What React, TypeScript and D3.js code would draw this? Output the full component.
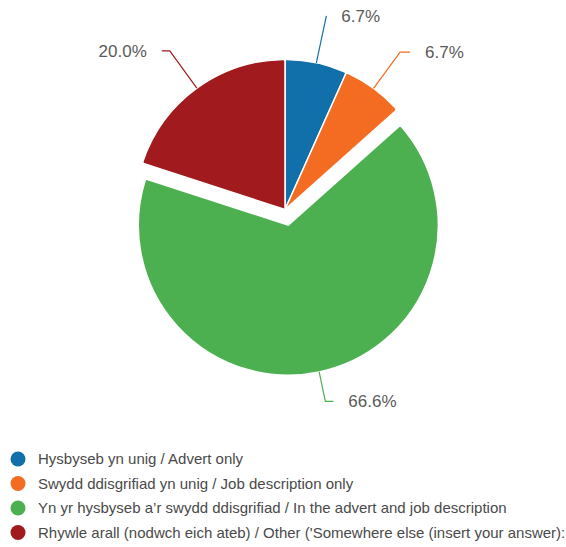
import React from "react";
import * as d3 from "d3";

const categories = [
  "Hysbyseb yn unig / Advert only",
  "Swydd ddisgrifiad yn unig / Job description only",
  "Yn yr hysbyseb a\u2019r swydd ddisgrifiad / In the advert and job description",
  "Rhywle arall (nodwch eich ateb) / Other ('Somewhere else (insert your answer):",
];
const values = [6.7, 6.7, 66.6, 20.0];
const valueLabels = ["6.7%", "6.7%", "66.6%", "20.0%"];
const colors = ["#1170aa", "#f46b22", "#4caf50", "#a11b1e"];
const exploded = [false, false, true, false];

const W = 566;
const H = 547;
const cx = 285;
const cy = 209.5;
const R = 150;
const explodeOffset = 16;
const elbowExtra = [48, 45, 30, 46];
const horizLen = [0, 10, 8, 8];
const textGap = 15;
const FONT = "'Liberation Sans', Arial, sans-serif";

export default function App() {
  const pie = d3
    .pie<number>()
    .sort(null)
    .value((d) => d)
    .startAngle(0)
    .endAngle(2 * Math.PI);
  const arcs = pie(values);
  const arcGen = d3
    .arc<d3.PieArcDatum<number>>()
    .innerRadius(0)
    .outerRadius(R)
    .cornerRadius(2);

  const legendY = d3
    .scalePoint<number>()
    .domain(d3.range(categories.length))
    .range([459, 532.5]);

  return (
    <svg
      width={W}
      height={H}
      style={{ position: "absolute", left: 0, top: 0, background: "#fff" }}
    >
      <g>
        {arcs.map((a, i) => {
          const mid = (a.startAngle + a.endAngle) / 2;
          const ux = Math.sin(mid);
          const uy = -Math.cos(mid);
          const off = exploded[i] ? explodeOffset : 0;
          const ox = cx + ux * off;
          const oy = cy + uy * off;
          const p0 = [ox + ux * R, oy + uy * R];
          const re = R + elbowExtra[i];
          const p1 = [ox + ux * re, oy + uy * re];
          const dir = ux >= 0 ? 1 : -1;
          const p2 = [p1[0] + dir * horizLen[i], p1[1]];
          const tx = p2[0] + dir * textGap;
          return (
            <g key={i}>
              <path
                d={arcGen(a) || ""}
                transform={`translate(${ox},${oy})`}
                fill={colors[i]}
                stroke="#fff"
                strokeWidth={1.5}
              />
              <polyline
                points={`${p0[0]},${p0[1]} ${p1[0]},${p1[1]} ${p2[0]},${p2[1]}`}
                fill="none"
                stroke={colors[i]}
                strokeWidth={1.2}
              />
              <text
                x={tx}
                y={p1[1]}
                dy="0.35em"
                textAnchor={dir > 0 ? "start" : "end"}
                fontFamily={FONT}
                fontSize={17}
                fill="#5a5a5a"
              >
                {valueLabels[i]}
              </text>
            </g>
          );
        })}
      </g>
      <g>
        {categories.map((c, i) => (
          <g key={i} transform={`translate(0,${legendY(i)})`}>
            <circle cx={18} cy={0} r={7.5} fill={colors[i]} />
            <text
              x={38}
              y={0}
              dy="0.35em"
              fontFamily={FONT}
              fontSize={15}
              fill="#4a4a4a"
            >
              {c}
            </text>
          </g>
        ))}
      </g>
    </svg>
  );
}
